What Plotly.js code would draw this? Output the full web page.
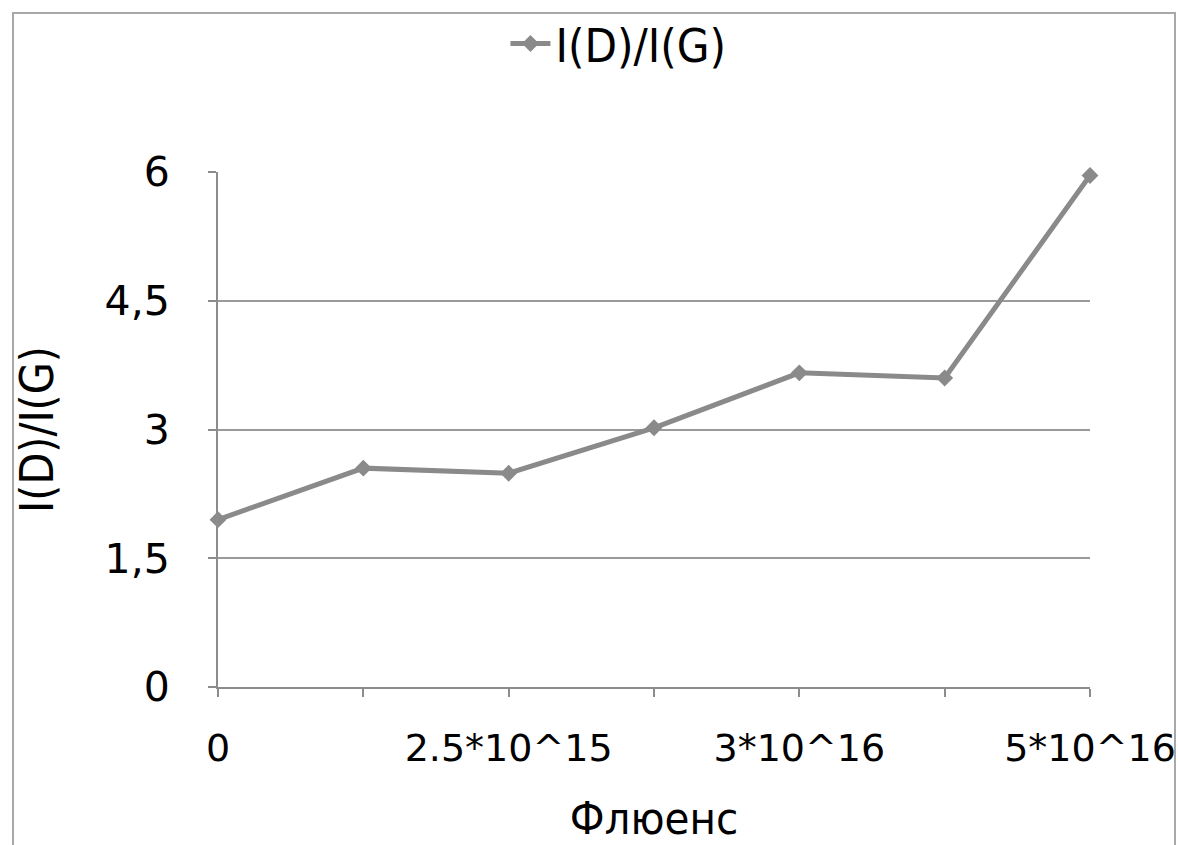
<!DOCTYPE html>
<html>
<head>
<meta charset="utf-8">
<script src="https://cdn.plot.ly/plotly-3.0.1.min.js"></script>
<style>html,body{margin:0;padding:0;background:#fff;}#chart{width:1178px;height:845px;}</style>
</head>
<body>
<div id="chart"></div>
<script>
const categoryIndex = [0, 1, 2, 3, 4, 5, 6];
const tickLabels = ["0", "", "2.5*10^15", "", "3*10^16", "", "5*10^16"];
const ratioValues = [1.95, 2.55, 2.49, 3.02, 3.66, 3.60, 5.96];
const seriesName = "I(D)/I(G)";
const xTitle = "Флюенс";
const yTitle = "I(D)/I(G)";

const FONT = "DejaVu Sans, Verdana, sans-serif";
const COND = "DejaVu Sans Condensed, DejaVu Sans, sans-serif";

const trace = {
  x: categoryIndex,
  y: ratioValues,
  name: seriesName,
  type: "scatter",
  mode: "lines+markers",
  line: {color: "#8a8a8a", width: 5},
  marker: {symbol: "diamond", size: 13, color: "#8a8a8a"},
  cliponaxis: false
};

const L = 218, R = 88, T = 172, B = 158;
const W = 1178 - L - R, H = 845 - T - B;
const px = v => (v - L) / W;
const py = v => (845 - B - v) / H;

const layout = {
  width: 1178, height: 845,
  margin: {l: L, r: R, t: T, b: B, pad: 0},
  paper_bgcolor: "#ffffff",
  plot_bgcolor: "#ffffff",
  separators: ", ",
  showlegend: true,
  legend: {
    orientation: "h",
    xref: "container", yref: "container",
    x: 0.525, xanchor: "center",
    y: 1 - 44 / 845, yanchor: "middle",
    bgcolor: "rgba(0,0,0,0)",
    font: {family: COND, size: 47, color: "#000"},
    itemwidth: 40
  },
  xaxis: {
    range: [0, 6],
    tickmode: "array",
    tickvals: categoryIndex,
    ticktext: tickLabels,
    showgrid: false,
    zeroline: false,
    showline: true,
    linecolor: "#8c8c8c",
    linewidth: 2,
    ticks: "outside",
    ticklen: 8,
    tickwidth: 2,
    tickcolor: "#8c8c8c",
    ticklabelstandoff: 18,
    tickfont: {family: FONT, size: 38, color: "#000"},
    title: {text: xTitle, font: {family: COND, size: 45, color: "#000"}, standoff: 36}
  },
  yaxis: {
    range: [0, 6],
    tickmode: "linear",
    tick0: 0,
    dtick: 1.5,
    showgrid: true,
    gridcolor: "#9a9a9a",
    gridwidth: 2,
    zeroline: false,
    showline: true,
    linecolor: "#8c8c8c",
    linewidth: 2,
    ticks: "outside",
    ticklen: 8,
    tickwidth: 2,
    tickcolor: "#8c8c8c",
    ticklabelstandoff: 30,
    tickfont: {family: FONT, size: 41, color: "#000"},
    title: {text: yTitle, font: {family: COND, size: 46, color: "#000"}, standoff: 36}
  },
  shapes: [{
    type: "rect", xref: "paper", yref: "paper",
    x0: px(13), x1: px(1175), y0: py(900), y1: py(13),
    line: {color: "#a8a8a8", width: 2},
    fillcolor: "rgba(0,0,0,0)",
    layer: "below"
  }]
};

Plotly.newPlot("chart", [trace], layout, {displayModeBar: false, staticPlot: true});
</script>
</body>
</html>
